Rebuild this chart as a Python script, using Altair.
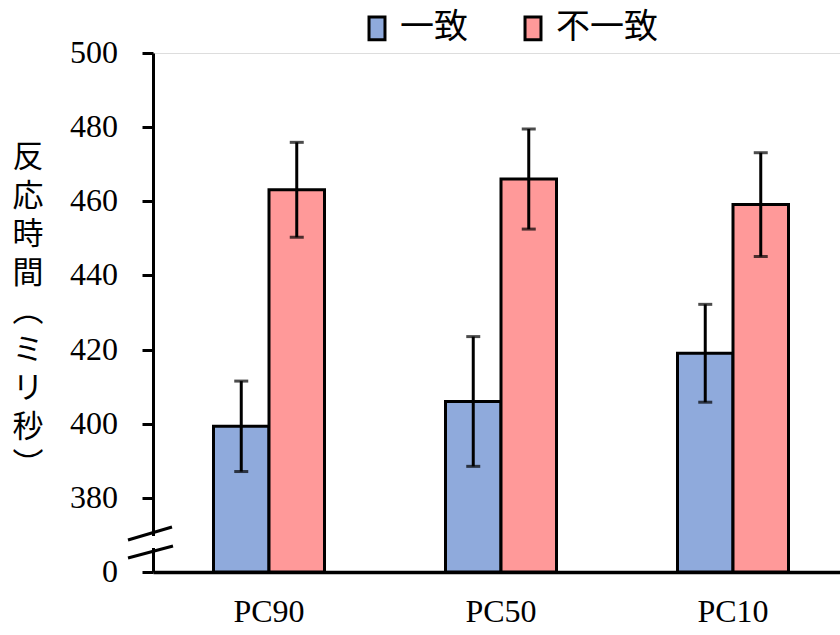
import altair as alt
import pandas as pd

categories = ["PC90", "PC50", "PC10"]
conditions = ["一致", "不一致"]
match_mean = [399.3, 406.0, 419.0]
match_err = [12.2, 17.5, 13.2]
mismatch_mean = [463.1, 466.0, 459.1]
mismatch_err = [12.8, 13.5, 14.0]
y_ticks = [360, 380, 400, 420, 440, 460, 480, 500]
y_tick_labels = ["0", "380", "400", "420", "440", "460", "480", "500"]
colors = ["#8FAADC", "#FF9999"]
y_title = ["反", "応", "時", "間", "︵", "ミ", "リ", "秒", "", "︶"]

rows = []
for i, c in enumerate(categories):
    rows.append({"cat": c, "cond": conditions[0], "mean": match_mean[i], "err": match_err[i]})
    rows.append({"cat": c, "cond": conditions[1], "mean": mismatch_mean[i], "err": mismatch_err[i]})
df = pd.DataFrame(rows)
df["lo"] = df["mean"] - df["err"]
df["hi"] = df["mean"] + df["err"]
tick_df = pd.DataFrame({"v": y_ticks, "lab": y_tick_labels})

xscale = alt.Scale(range=[0, 696], paddingInner=0, paddingOuter=0)
xoff = alt.XOffset("cond:N", sort=conditions,
                   scale=alt.Scale(domain=conditions, range=[60.5, 171.5],
                                   paddingInner=0, paddingOuter=0))
yscale = alt.Scale(domain=[360, 500], nice=False, zero=False)

x_axis = alt.Axis(title=None, ticks=False, labelAngle=0, labelPadding=24,
                  labelFont="Liberation Serif", labelFontSize=32, domainWidth=3.5)
y_axis = alt.Axis(values=y_ticks, labels=False, grid=False, tickSize=11, tickWidth=3,
                  domainWidth=3, title=None)

x_enc = alt.X("cat:N", sort=categories, scale=xscale, axis=x_axis)

base = alt.Chart(df)

bars = base.mark_bar(stroke="black", strokeWidth=3).encode(
    x=x_enc,
    xOffset=xoff,
    y=alt.Y("mean:Q", scale=yscale, axis=y_axis),
    y2=alt.datum(360),
    fill=alt.Fill("cond:N", sort=conditions,
                  scale=alt.Scale(domain=conditions, range=colors),
                  legend=alt.Legend(title=None, orient="none", direction="horizontal",
                                    legendX=207, legendY=-42,
                                    symbolType="M-0.7,-1H0.7V1H-0.7Z", symbolSize=520,
                                    symbolStrokeColor="black", symbolStrokeWidth=3,
                                    labelFont="Noto Sans CJK JP", labelFontSize=34,
                                    labelColor="black", labelOffset=6, columnPadding=48)),
)

rules = base.mark_rule(color="black", strokeWidth=3).encode(
    x=x_enc,
    xOffset=xoff,
    y=alt.Y("lo:Q", scale=yscale, axis=y_axis),
    y2="hi:Q",
)
cap_lo = base.mark_tick(color="black", thickness=3, size=14).encode(
    x=x_enc,
    xOffset=xoff,
    y=alt.Y("lo:Q", scale=yscale, axis=y_axis),
)
cap_hi = base.mark_tick(color="black", thickness=3, size=14).encode(
    x=x_enc,
    xOffset=xoff,
    y=alt.Y("hi:Q", scale=yscale, axis=y_axis),
)

tick_labels = alt.Chart(tick_df).mark_text(
    font="Liberation Serif", fontSize=32, color="black", align="right", baseline="middle"
).encode(
    x=alt.value(-35),
    y=alt.Y("v:Q", scale=yscale, axis=y_axis),
    text="lab:N",
)

deco = alt.Chart(alt.Data(values=[{"k": 1}]))
title_text = deco.mark_text(
    font="Noto Sans CJK JP", fontSize=31, color="black", align="center",
    baseline="middle", lineHeight=38.5, lineBreak="\n"
).encode(
    x=alt.value(-125), y=alt.value(105), text=alt.value("\n".join(y_title))
)
gap = deco.mark_rect(color="white").encode(
    x=alt.value(-5), x2=alt.value(5), y=alt.value(483), y2=alt.value(495))
slash1 = deco.mark_rule(color="black", strokeWidth=3).encode(
    x=alt.value(-25), y=alt.value(487), x2=alt.value(19), y2=alt.value(474))
slash2 = deco.mark_rule(color="black", strokeWidth=3).encode(
    x=alt.value(-25), y=alt.value(505), x2=alt.value(20), y2=alt.value(493))

chart = alt.layer(bars, rules, cap_lo, cap_hi, tick_labels, title_text, gap, slash1, slash2).properties(
    width=687, height=519,
    autosize=alt.AutoSizeParams(type="none"),
    padding={"left": 153, "top": 53, "right": 0, "bottom": 63},
).configure_view(strokeWidth=0).configure(background="white").configure_axis(
    labelFontSize=32, labelColor="black",
    domainColor="black", tickColor="black"
)

chart.save("out.html", embed_options={"renderer": "svg", "actions": False})
